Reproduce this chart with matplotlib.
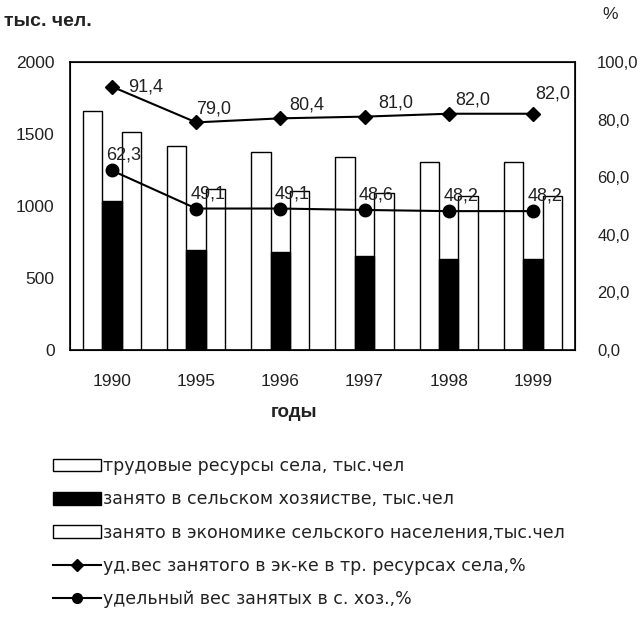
import numpy as np
import matplotlib
matplotlib.use('Agg')
import matplotlib.pyplot as plt
from matplotlib.patches import Patch
from matplotlib.lines import Line2D

plt.rcParams['font.family'] = ['Liberation Sans', 'DejaVu Sans']

# данные
years = ['1990', '1995', '1996', '1997', '1998', '1999']
trud_resursy = [1660, 1417, 1373, 1343, 1303, 1303]
zanyato_sh = [1037, 694, 683, 653, 630, 630]
zanyato_ekon = [1515, 1115, 1105, 1088, 1070, 1070]
ud_ves_ekon = [91.4, 79.0, 80.4, 81.0, 82.0, 82.0]
ud_ves_sh = [62.3, 49.1, 49.1, 48.6, 48.2, 48.2]

txt = '#222222'
fig = plt.figure(figsize=(6.41, 6.25), dpi=100)
ax = fig.add_axes([0.109, 0.44, 0.788, 0.461])
x = np.arange(len(years))
w = 0.23

ax.bar(x - w, trud_resursy, w, color='white', edgecolor='black', linewidth=1, zorder=2)
ax.bar(x + w, zanyato_ekon, w, color='white', edgecolor='black', linewidth=1, zorder=2)
ax.bar(x, zanyato_sh, w, color='black', edgecolor='black', linewidth=1, zorder=3)

ax.set_xlim(-0.5, 5.5)
ax.set_ylim(0, 2000)
ax.set_yticks([0, 500, 1000, 1500, 2000])
ax.set_xticks(x)
ax.set_xticklabels(years)
ax.tick_params(length=0, labelsize=12.5, colors=txt)
ax.tick_params(axis='y', pad=11)
ax.tick_params(axis='x', pad=17)
for s in ax.spines.values():
    s.set_linewidth(1.2)

ax2 = ax.twinx()
ax2.set_ylim(0, 100)
ax2.set_yticks([0, 20, 40, 60, 80, 100])
ax2.set_yticklabels(['0,0', '20,0', '40,0', '60,0', '80,0', '100,0'])
ax2.tick_params(length=0, labelsize=12, colors=txt, pad=16)

ax2.plot(x, ud_ves_ekon, color='black', lw=1.5, marker='D', ms=7)
ax2.plot(x, ud_ves_sh, color='black', lw=1.5, marker='o', ms=9)

off_ekon = [(16, 0), (0, 13), (9, 13), (14, 14), (7, 14), (2, 20)]
for xi, v, o in zip(x, ud_ves_ekon, off_ekon):
    ax2.annotate(f'{v:.1f}'.replace('.', ','), (xi, v), xytext=o, textcoords='offset pixels',
                 ha='left', va='center', fontsize=13, color=txt)
for xi, v in zip(x, ud_ves_sh):
    ax2.annotate(f'{v:.1f}'.replace('.', ','), (xi, v), xytext=(12, 15), textcoords='offset pixels',
                 ha='center', va='center', fontsize=13, color=txt)

fig.text(0.006, 0.966, 'тыс. чел.', fontsize=14, color=txt, weight='bold', va='center')
fig.text(0.94, 0.977, '%', fontsize=12.5, color=txt, va='center')
fig.text(0.458, 0.34, 'годы', fontsize=13.5, color=txt, weight='bold', ha='center', va='center')

handles = [
    Patch(facecolor='white', edgecolor='black'),
    Patch(facecolor='black', edgecolor='black'),
    Patch(facecolor='white', edgecolor='black'),
    Line2D([], [], color='black', lw=1.5, marker='D', ms=6),
    Line2D([], [], color='black', lw=1.5, marker='o', ms=7),
]
labels = [
    'трудовые ресурсы села, тыс.чел',
    'занято в сельском хозяистве, тыс.чел',
    'занято в экономике сельского населения,тыс.чел',
    'уд.вес занятого в эк-ке в тр. ресурсах села,%',
    'удельный вес занятых в с. хоз.,%',
]
fig.legend(handles, labels, loc='upper left', bbox_to_anchor=(0.072, 0.28), frameon=False,
           prop={'family': 'DejaVu Sans', 'size': 12.5}, handlelength=2.75, handleheight=0.75,
           labelspacing=0.88, handletextpad=0.15, borderaxespad=0, labelcolor=txt)

fig.savefig('out.png', dpi=100)
